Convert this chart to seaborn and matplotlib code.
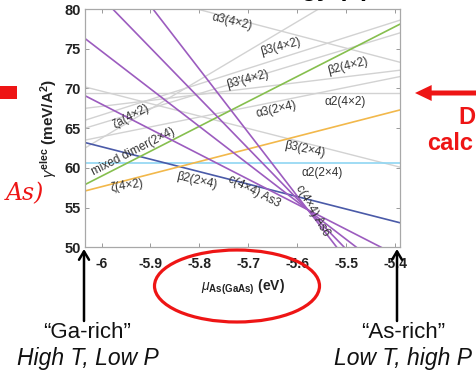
import numpy as np
import pandas as pd
import matplotlib
matplotlib.use("Agg")
import matplotlib.pyplot as plt
import seaborn as sns
from matplotlib.patches import Ellipse, Rectangle, FancyArrowPatch

# ---------------- data ----------------
X_LEFT, X_RIGHT = -6.034, -5.39

gray_names = ["β3(2×4) line", "α2(4×2) line", "α3(4×2) line", "ζa(4×2) line",
              "β3(4×2) line", "β3'(4×2) line", "β2(4×2) line", "α3(2×4) line"]
gray_left = [70.2, 69.4, 83.7, 62.5, 66.0, 65.0, 67.5, 63.5]
gray_right = [60.1, 69.4, 73.3, 86.1, 78.6, 77.0, 72.3, 71.5]

color_names = ["α2(2×4)", "β2(2×4)", "mixed dimer(2×4)", "ζ(4×2)",
               "c(4×4) a", "c(4×4) b", "c(4×4) As6", "c(4×4) As3"]
color_left = [60.6, 63.2, 57.9, 57.1, 83.6, 91.1, 76.3, 69.1]
color_right = [60.6, 53.1, 78.1, 67.3, 42.8, 39.7, 45.8, 48.8]
color_values = ["#8fd6f2", "#4a5aa8", "#86bf4e", "#f2b84b",
                "#9c5cbf", "#9c5cbf", "#9c5cbf", "#9c5cbf"]

label_texts = ["α3(4×2)", "β3(4×2)", "β3'(4×2)", "β2(4×2)", "α3(2×4)", "α2(4×2)",
               "ζa(4×2)", "mixed dimer(2×4)", "ζ(4×2)", "β2(2×4)",
               "c(4×4) As3", "c(4×4) As6", "β3(2×4)", "α2(2×4)"]
label_x = [-5.734, -5.635, -5.701, -5.496, -5.642, -5.502,
           -5.940, -5.936, -5.948, -5.805, -5.689, -5.568, -5.584, -5.550]
label_y = [78.36, 75.22, 71.07, 72.83, 67.30, 68.30,
           66.54, 62.01, 57.74, 58.36, 56.98, 54.59, 62.39, 59.37]
label_rot = [-13, 15, 15, 14, 13, 0, 28, 27, 8, -13, -27, -60, -12, 0]

xticks = [-6.0, -5.9, -5.8, -5.7, -5.6, -5.5, -5.4]
xtick_labels = ["-6", "-5.9", "-5.8", "-5.7", "-5.6", "-5.5", "-5.4"]
yticks = [50, 55, 60, 65, 70, 75, 80]

# ---------------- long tables ----------------
gray_df = pd.DataFrame({
    "surface": np.repeat(gray_names, 2),
    "mu": np.tile([X_LEFT, X_RIGHT], len(gray_names)),
    "gamma": np.ravel(np.column_stack([gray_left, gray_right])),
})
color_df = pd.DataFrame({
    "surface": np.repeat(color_names, 2),
    "mu": np.tile([X_LEFT, X_RIGHT], len(color_names)),
    "gamma": np.ravel(np.column_stack([color_left, color_right])),
})

# ---------------- style ----------------
sns.set_theme(style="white")
plt.rcParams["font.family"] = ["Liberation Sans", "DejaVu Sans"]
plt.rcParams["axes.unicode_minus"] = False
plt.rcParams["mathtext.fontset"] = "custom"
plt.rcParams["mathtext.rm"] = "Liberation Sans"
plt.rcParams["mathtext.bf"] = "Liberation Sans:bold"
plt.rcParams["mathtext.it"] = "Liberation Sans:italic"

fig, ax = plt.subplots(figsize=(4.77, 3.76), dpi=100)
fig.subplots_adjust(left=0.178, right=0.8386, bottom=0.342, top=0.976)

sns.lineplot(data=gray_df, x="mu", y="gamma", hue="surface",
             palette={n: "#d2d2d2" for n in gray_names}, estimator=None,
             sort=False, linewidth=1.0, legend=False, ax=ax)
sns.lineplot(data=color_df, x="mu", y="gamma", hue="surface",
             palette=dict(zip(color_names, color_values)), estimator=None,
             sort=False, linewidth=1.2, legend=False, ax=ax)

ax.set_xlim(X_LEFT, X_RIGHT)
ax.set_ylim(50, 80)
ax.set_xticks(xticks)
ax.set_xticklabels(xtick_labels, fontweight="bold", fontsize=10, color="#222222")
ax.set_yticks(yticks)
ax.set_yticklabels([str(v) for v in yticks], fontweight="bold", fontsize=10.5,
                   color="#222222")
ax.tick_params(direction="in", length=3, width=0.7, color="#999999",
               top=True, right=True, bottom=True, left=True)
ax.tick_params(axis="x", pad=7)
ax.tick_params(axis="y", pad=3)
for sp in ax.spines.values():
    sp.set_color("#a8a8a8")
    sp.set_linewidth(0.9)

ax.set_xlabel(r"$\mu_{\mathbf{As(GaAs)}}$ (eV)", fontweight="bold", fontsize=10,
              color="#222222", labelpad=5)
ax.set_ylabel(r"$\gamma^{\mathbf{elec}}$ (meV/A$^{\mathbf{2}}$)", fontweight="bold",
              fontsize=11, color="#222222", labelpad=4)

for t, x, y, r in zip(label_texts, label_x, label_y, label_rot):
    ax.text(x, y, t, rotation=r, rotation_mode="anchor", ha="center", va="center",
            fontsize=8.5, color="#333333")

# ---------------- annotations outside the axes ----------------
red = "#ee1515"
W, H = 477.0, 376.0

def fx(px):
    return px / W

def fy(py):
    return 1 - py / H

fig.add_artist(Ellipse((fx(237), fy(286)), 165 / W, 72 / H, transform=fig.transFigure,
                       fill=False, edgecolor=red, linewidth=2.3, zorder=10))
fig.add_artist(Rectangle((0, fy(99)), 17 / W, 13 / H, transform=fig.transFigure,
                         facecolor=red, edgecolor="none"))
fig.add_artist(FancyArrowPatch((1.01, fy(93)), (fx(415), fy(93)),
                               transform=fig.transFigure,
                               arrowstyle="simple,head_length=1.2,head_width=1.15,tail_width=0.36",
                               mutation_scale=10, color=red, linewidth=0, shrinkA=0,
                               shrinkB=0))
for px in (84, 397):
    fig.add_artist(FancyArrowPatch((fx(px), fy(321)), (fx(px), fy(249)),
                                   transform=fig.transFigure,
                                   arrowstyle="->,head_length=0.5,head_width=0.3",
                                   mutation_scale=12, color="black", linewidth=1.8,
                                   shrinkA=0, shrinkB=0, zorder=11))

fig.text(fx(44), fy(194), "As)", ha="right", va="center", color=red,
         fontsize=17, family="DejaVu Serif", style="italic")
fig.text(fx(458), fy(117), "D", ha="left", va="center", color=red,
         fontsize=17, fontweight="bold")
fig.text(fx(427), fy(144), "calc", ha="left", va="center", color=red,
         fontsize=17, fontweight="bold")
fig.text(fx(370), fy(-4), "Energy (T)", ha="right", va="baseline", color="black",
         fontsize=18, fontweight="bold")

fig.text(fx(87), fy(333), "\u201cGa-rich\u201d", ha="center", va="center",
         fontsize=16, color="#111111")
fig.text(fx(88), fy(358), "High T, Low P", ha="center", va="center",
         fontsize=16.5, style="italic", color="#111111")
fig.text(fx(403), fy(333), "\u201cAs-rich\u201d", ha="center", va="center",
         fontsize=16, color="#111111")
fig.text(fx(403), fy(358), "Low T, high P", ha="center", va="center",
         fontsize=16.5, style="italic", color="#111111")

fig.savefig("out.png", dpi=100)
